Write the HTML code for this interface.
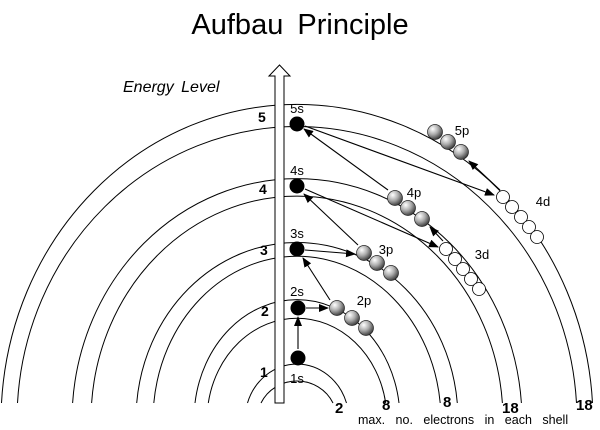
<!DOCTYPE html>
<html><head><style>
html,body{margin:0;padding:0;background:#fff;overflow:hidden;width:600px;height:430px;}
svg{display:block;}
text{font-family:"Liberation Sans",Arial,sans-serif;fill:#000;}
</style></head><body>
<svg width="600" height="430" viewBox="0 0 600 430" xmlns="http://www.w3.org/2000/svg">
<defs>
<radialGradient id="g" cx="0.35" cy="0.3" r="0.75">
<stop offset="0" stop-color="#fff"/><stop offset="0.5" stop-color="#aaa"/><stop offset="1" stop-color="#333"/>
</radialGradient>
<marker id="a" markerWidth="10" markerHeight="8" refX="9" refY="4" orient="auto" markerUnits="userSpaceOnUse">
<path d="M0,0 L10,4 L0,8 Z" fill="#000"/></marker>
</defs>
<text x="300" y="34" font-size="29" text-anchor="middle" word-spacing="6">Aufbau Principle</text>
<text x="123" y="92" font-size="16" font-style="italic" word-spacing="3">Energy Level</text>
<g fill="none" stroke="#000" stroke-width="1">
<path d="M261,403 A40 39 0 0 1 333,403"/>
<path d="M247.5,403 A52 56 0 0 1 346.5,403"/>
<path d="M208.3,403 A90 102 0 0 1 385.7,403"/>
<path d="M195,403 A103 120 0 0 1 399,403"/>
<path d="M153.8,403 A144 164 0 0 1 440.2,403"/>
<path d="M136.7,403 A161 177 0 0 1 457.3,403"/>
<path d="M91.6,403 A206 224 0 0 1 502.4,403"/>
<path d="M72.6,403 A225 242 0 0 1 521.4,403"/>
<path d="M17.5,403 A280 294 0 0 1 576.5,403"/>
<path d="M1.5,403 A296 317 0 0 1 592.5,403"/>
</g>
<path d="M275,403 L275,76 L269,76 L279.5,65 L290,76 L284,76 L284,403 Z" fill="#fff" stroke="#000" stroke-width="1"/>
<g font-size="14" font-weight="bold">
<text x="260" y="377">1</text><text x="261" y="316">2</text><text x="260" y="255">3</text><text x="259" y="194">4</text><text x="258" y="122">5</text>
</g>
<g font-size="13" text-anchor="middle">
<text x="297" y="383">1s</text><text x="297" y="296">2s</text><text x="297" y="238">3s</text><text x="297" y="175">4s</text><text x="297" y="113">5s</text>
<text x="364" y="305">2p</text><text x="386" y="254">3p</text><text x="414" y="197">4p</text><text x="462" y="135">5p</text>
<text x="482" y="259">3d</text><text x="543" y="206">4d</text>
</g>
<g fill="#000">
<circle cx="298" cy="358" r="7.5"/><circle cx="298" cy="308" r="7.5"/><circle cx="297" cy="249" r="7.5"/><circle cx="297" cy="186" r="7.5"/><circle cx="297" cy="124" r="7.5"/>
</g>
<g fill="url(#g)" stroke="#222" stroke-width="0.7">
<circle cx="337" cy="308" r="7.5"/><circle cx="352" cy="318" r="7.5"/><circle cx="366" cy="328" r="7.5"/>
<circle cx="364" cy="253" r="7.5"/><circle cx="377" cy="263" r="7.5"/><circle cx="391" cy="273" r="7.5"/>
<circle cx="395" cy="198" r="7.5"/><circle cx="408" cy="208" r="7.5"/><circle cx="422" cy="219" r="7.5"/>
<circle cx="435" cy="132" r="7.5"/><circle cx="448" cy="142" r="7.5"/><circle cx="461" cy="152" r="7.5"/>
</g>
<g fill="#fff" stroke="#000" stroke-width="0.8">
<circle cx="446" cy="249" r="6.5"/><circle cx="455" cy="259" r="6.5"/><circle cx="463" cy="269" r="6.5"/><circle cx="471" cy="279" r="6.5"/><circle cx="479" cy="289" r="6.5"/>
<circle cx="503" cy="197" r="6.5"/><circle cx="512" cy="207" r="6.5"/><circle cx="521" cy="217" r="6.5"/><circle cx="529" cy="227" r="6.5"/><circle cx="537" cy="237" r="6.5"/>
</g>
<g stroke="#000" stroke-width="1.1" fill="none" marker-end="url(#a)">
<line x1="298" y1="349" x2="298" y2="317"/>
<line x1="306" y1="308" x2="328" y2="308"/>
<line x1="330" y1="300" x2="303" y2="258"/>
<line x1="305" y1="250" x2="355" y2="254"/>
<line x1="358" y1="245" x2="304" y2="194"/>
<line x1="305" y1="189" x2="438" y2="247"/>
<line x1="443" y1="241" x2="430" y2="227"/>
<line x1="388" y1="190" x2="304" y2="129"/>
<line x1="305" y1="126" x2="494" y2="195"/>
<line x1="500" y1="190" x2="469" y2="161"/>
</g>
<g font-size="15" font-weight="bold">
<text x="335" y="413">2</text><text x="382" y="410">8</text><text x="443" y="407">8</text><text x="502" y="413">18</text><text x="576" y="410">18</text>
</g>
<text x="358" y="424" font-size="12.5" word-spacing="7">max. no. electrons in each shell</text>
</svg>
</body></html>
